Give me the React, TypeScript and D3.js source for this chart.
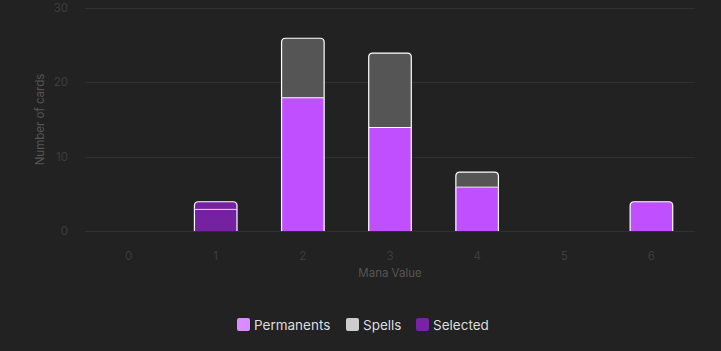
import React from "react";
import * as d3 from "d3";

const categories = ["0", "1", "2", "3", "4", "5", "6"];
const permanents = [0, 3, 18, 14, 6, 0, 4];
const spells = [0, 1, 8, 10, 2, 0, 0];
const selectedIndex = [1];
const yTicks = [0, 10, 20, 30];
const legendItems = ["Permanents", "Spells", "Selected"];

const W = 721;
const H = 351;
const m = { left: 85, right: 695, top: 8, bottom: 231 };

function barPath(x0: number, x1: number, y0: number, y1: number, r: number) {
  const rr = Math.min(r, (x1 - x0) / 2, Math.abs(y0 - y1));
  if (rr <= 0) return `M${x0},${y0}V${y1}H${x1}V${y0}`;
  return `M${x0},${y0}V${y1 + rr}Q${x0},${y1} ${x0 + rr},${y1}H${x1 - rr}Q${x1},${y1} ${x1},${y1 + rr}V${y0}`;
}

export default function App() {
  const x = d3.scaleBand<string>().domain(categories).range([m.left, m.right]).paddingInner(0).paddingOuter(0);
  const y = d3.scaleLinear().domain([0, 30]).range([m.bottom, m.top]);
  const bw = x.bandwidth() * 0.5;

  const colPerm = "#c050ff";
  const colSpell = "#555555";
  const colSel = "#7620a2";

  const bars: React.ReactNode[] = [];
  categories.forEach((c, i) => {
    const cx = (x(c) as number) + x.bandwidth() / 2;
    const x0 = cx - bw / 2;
    const x1 = cx + bw / 2;
    const sel = selectedIndex.includes(i);
    const p = permanents[i];
    const s = spells[i];
    const segs = [
      { v0: 0, v1: p, fill: sel ? colSel : colPerm },
      { v0: p, v1: p + s, fill: sel ? colSel : colSpell },
    ].filter((d) => d.v1 > d.v0);
    segs.forEach((sg, k) => {
      const top = k === segs.length - 1;
      const y0 = y(sg.v0);
      const y1 = y(sg.v1);
      bars.push(
        <path
          key={`${i}-${k}`}
          d={barPath(x0 + 0.5, x1 - 0.5, y0, y1 + 0.5, top ? 4 : 0)}
          fill={sg.fill}
          stroke="#ffffff"
          strokeWidth={1.2}
        />
      );
    });
  });

  const legendColors = ["#d98cff", "#cccccc", "#7a22a6"];
  const legendX = [237, 346, 416];

  return (
    <svg
      width={W}
      height={H}
      style={{ position: "absolute", left: 0, top: 0, background: "#222222" }}
      fontFamily="Inter, 'Noto Sans', sans-serif"
    >
      <rect width={W} height={H} fill="#222222" />
      {yTicks.map((t) => (
        <g key={t}>
          <line x1={m.left} x2={m.right} y1={Math.round(y(t)) + 0.5} y2={Math.round(y(t)) + 0.5} stroke="#303030" strokeWidth={1} />
          <text x={68} y={y(t)} dy="0.35em" textAnchor="end" fontSize={11.5} fill="#3d3d3d">
            {t}
          </text>
        </g>
      ))}
      {categories.map((c) => (
        <text key={c} x={(x(c) as number) + x.bandwidth() / 2} y={256} dy="0.35em" textAnchor="middle" fontSize={11.5} fill="#3d3d3d">
          {c}
        </text>
      ))}
      <text x={(m.left + m.right) / 2} y={273} dy="0.35em" textAnchor="middle" fontSize={11.5} fill="#555555">
        Mana Value
      </text>
      <text
        transform={`translate(40,${(m.top + m.bottom) / 2}) rotate(-90)`}
        dy="0.35em"
        textAnchor="middle"
        fontSize={11.5}
        fill="#555555"
      >
        Number of cards
      </text>
      {bars}
      {legendItems.map((l, i) => (
        <g key={l}>
          <rect x={legendX[i]} y={318} width={13} height={13} rx={2} fill={legendColors[i]} />
          <text x={legendX[i] + 17} y={325} dy="0.35em" fontSize={13.5} fill="#dddddd">
            {l}
          </text>
        </g>
      ))}
    </svg>
  );
}
